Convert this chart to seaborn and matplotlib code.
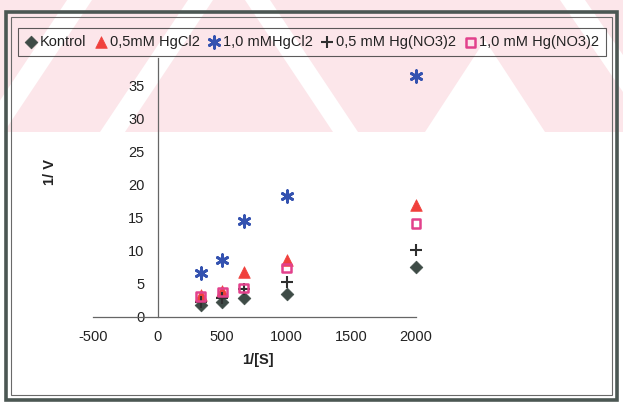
import matplotlib
matplotlib.use("Agg")
import matplotlib.pyplot as plt
import seaborn as sns
import pandas as pd
from matplotlib.patches import Polygon, Rectangle

# ---- data ----
x_values = [333, 500, 667, 1000, 2000]
kontrol = [1.8, 2.3, 2.9, 3.5, 7.5]
hgcl2_05 = [3.3, 4.0, 6.8, 8.6, 16.9]
hgcl2_10 = [6.6, 8.7, 14.5, 18.3, 36.5]
hgno3_05 = [2.3, 2.9, 4.3, 5.3, 10.1]
hgno3_10 = [3.1, 3.8, 4.4, 7.4, 14.2]
series_names = ["Kontrol", "0,5mM HgCl2", "1,0 mMHgCl2", "0,5 mM Hg(NO3)2", "1,0 mM Hg(NO3)2"]
x_ticks = [-500, 0, 500, 1000, 1500, 2000]
y_ticks = [0, 5, 10, 15, 20, 25, 30, 35]
x_label = "1/[S]"
y_label = "1/ V"

sns.set_style("white")
plt.rcParams["font.family"] = ["Liberation Sans", "DejaVu Sans"]
plt.rcParams["axes.unicode_minus"] = False

W, H = 623, 412
fig = plt.figure(figsize=(W / 100, H / 100), dpi=100)
fig.patch.set_facecolor("white")


def P(x, y):
    return (x / W, 1 - y / H)


# ---- scanned watermark (light pink band with white diagonal gaps) ----
pink = "#fce6ea"
fig.patches.append(Rectangle(P(0, 132), 1, 132 / H, transform=fig.transFigure,
                             facecolor=pink, edgecolor="none", zorder=0))
white_polys = [
    [(-21, 132), (4, 132), (92, 0), (67, 0)],
    [(100, 132), (125, 132), (213, 0), (188, 0)],
    [(245, 0), (270, 0), (358, 132), (333, 132)],
    [(425, 132), (545, 132), (485, 40)],
    [(560, 0), (585, 0), (623, 55), (623, 92)],
]
for poly in white_polys:
    fig.patches.append(Polygon([P(px, py) for px, py in poly], closed=True,
                               transform=fig.transFigure, facecolor="white",
                               edgecolor="none", zorder=0))

# ---- outer double frame ----
fig.patches.append(Rectangle(P(6, 400), 611 / W, 388 / H, transform=fig.transFigure,
                             facecolor="none", edgecolor="#4b5753", lw=2.6, zorder=1))
fig.patches.append(Rectangle(P(11, 395), 601 / W, 378 / H, transform=fig.transFigure,
                             facecolor="none", edgecolor="#6a6a6a", lw=0.8, zorder=1))

# ---- axes ----
ax = fig.add_axes([93 / W, 1 - 317 / H, (416 - 93) / W, (317 - 58) / H])
ax.patch.set_alpha(0)
ax.set_zorder(3)

styles = [
    dict(marker="D", s=42, color="#3e4b46", edgecolor="#3e4b46", linewidth=0.5),
    dict(marker="^", s=70, color="#f0403c", edgecolor="#f0403c", linewidth=0.5),
    dict(marker=(6, 2, 0), s=70, color="#3452b0", edgecolor="#3452b0", linewidth=2.0),
    dict(marker="+", s=70, color="#2f2f2f", linewidth=1.5),
    dict(marker="s", s=40, facecolor="none", edgecolor="#e2418c", linewidth=1.8),
]
all_series = [kontrol, hgcl2_05, hgcl2_10, hgno3_05, hgno3_10]
for name, vals, st in zip(series_names, all_series, styles):
    df = pd.DataFrame({"x": x_values, "y": vals})
    sns.scatterplot(data=df, x="x", y="y", ax=ax, label=name, zorder=3,
                    clip_on=False, **st)

if ax.get_legend() is not None:
    ax.get_legend().remove()

ax.set_xlim(-500, 2000)
ax.set_ylim(0, 39.2)
ax.set_xticks(x_ticks)
ax.set_yticks(y_ticks)
ax.set_xlabel("")
ax.set_ylabel("")
for side in ("top", "right"):
    ax.spines[side].set_visible(False)
ax.spines["left"].set_position(("data", 0))
for side in ("left", "bottom"):
    ax.spines[side].set_color("#666666")
    ax.spines[side].set_linewidth(0.9)
ax.tick_params(direction="inout", length=7, width=0.8, color="#666666",
               labelsize=10.5, labelcolor="#222222", pad=6)

fig.text(*P(258, 360), x_label, ha="center", va="center", fontsize=10.5,
         fontweight="bold", color="#222222")
fig.text(*P(50, 172), y_label, ha="center", va="center", fontsize=10.5,
         fontweight="bold", color="#222222", rotation=90)

handles, labels = ax.get_legend_handles_labels()
leg = fig.legend(handles, labels, loc="center", bbox_to_anchor=P(312, 42), ncol=5,
                 frameon=True, fancybox=False, edgecolor="#333333", facecolor="none",
                 handlelength=0.9, handletextpad=0.15, columnspacing=0.55,
                 borderpad=0.45, fontsize=10.5, labelcolor="#222222")
leg.get_frame().set_linewidth(0.8)
leg.set_zorder(4)

fig.savefig("out.png", dpi=100)
